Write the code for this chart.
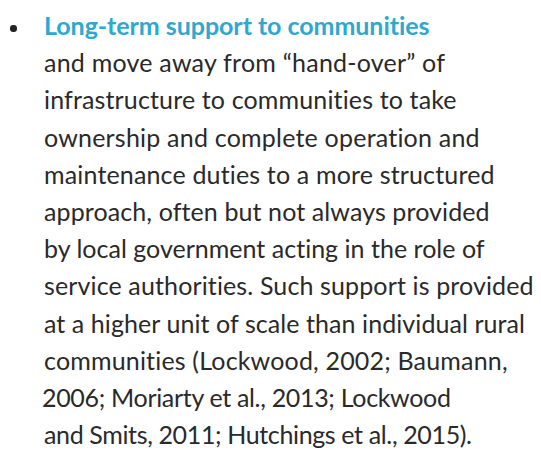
<!DOCTYPE html>
<html>
<head>
<meta charset="utf-8">
<script src="https://cdn.jsdelivr.net/npm/chart.js@4"></script>
<style>
html,body{margin:0;padding:0;background:#fff;width:541px;height:450px;overflow:hidden;}
#wrap{position:relative;width:541px;height:450px;font-family:Lato,"Open Sans",sans-serif;}
.line{position:absolute;white-space:nowrap;font-size:25px;color:#2a2a2a;line-height:1;}
.title{font-weight:bold;color:#2ea8d0;}
#bullet{position:absolute;left:10px;top:25px;width:6.5px;height:6.5px;border-radius:50%;background:#222;}
</style>
</head>
<body>
<div id="wrap"><div id="bullet"></div></div>
<script>
const titleText = "Long-term support to communities";
const bodyLines = [
  "and move away from \u201chand-over\u201d of",
  "infrastructure to communities to take",
  "ownership and complete operation and",
  "maintenance duties to a more structured",
  "approach, often but not always provided",
  "by local government acting in the role of",
  "service authorities. Such support is provided",
  "at a higher unit of scale than individual rural",
  "communities (Lockwood, 2002; Baumann,",
  "2006; Moriarty et al., 2013; Lockwood",
  "and Smits, 2011; Hutchings et al., 2015)."
];
// layout: left and right edges of each line as seen in the reference
const lineLeft  = [44, 44, 44, 44, 44, 44, 44, 44, 44, 44, 42, 44];
const lineRight = [430, 445, 457, 480, 495, 489, 485, 534, 525, 508, 451, 472];
const wrap = document.getElementById('wrap');
const firstBaseline = 35, lineStep = 37.2;
const all = [titleText].concat(bodyLines);
all.forEach((t, i) => {
  const d = document.createElement('div');
  d.className = 'line' + (i === 0 ? ' title' : '');
  d.textContent = t;
  d.style.left = lineLeft[i] + 'px';
  d.style.top = (firstBaseline + i * lineStep - 22) + 'px';
  wrap.appendChild(d);
  const natural = d.getBoundingClientRect().width;
  const target = lineRight[i] - lineLeft[i];
  const n = Math.max(1, t.length - 1);
  d.style.letterSpacing = ((target - natural) / n).toFixed(3) + 'px';
});
</script>
</body>
</html>
